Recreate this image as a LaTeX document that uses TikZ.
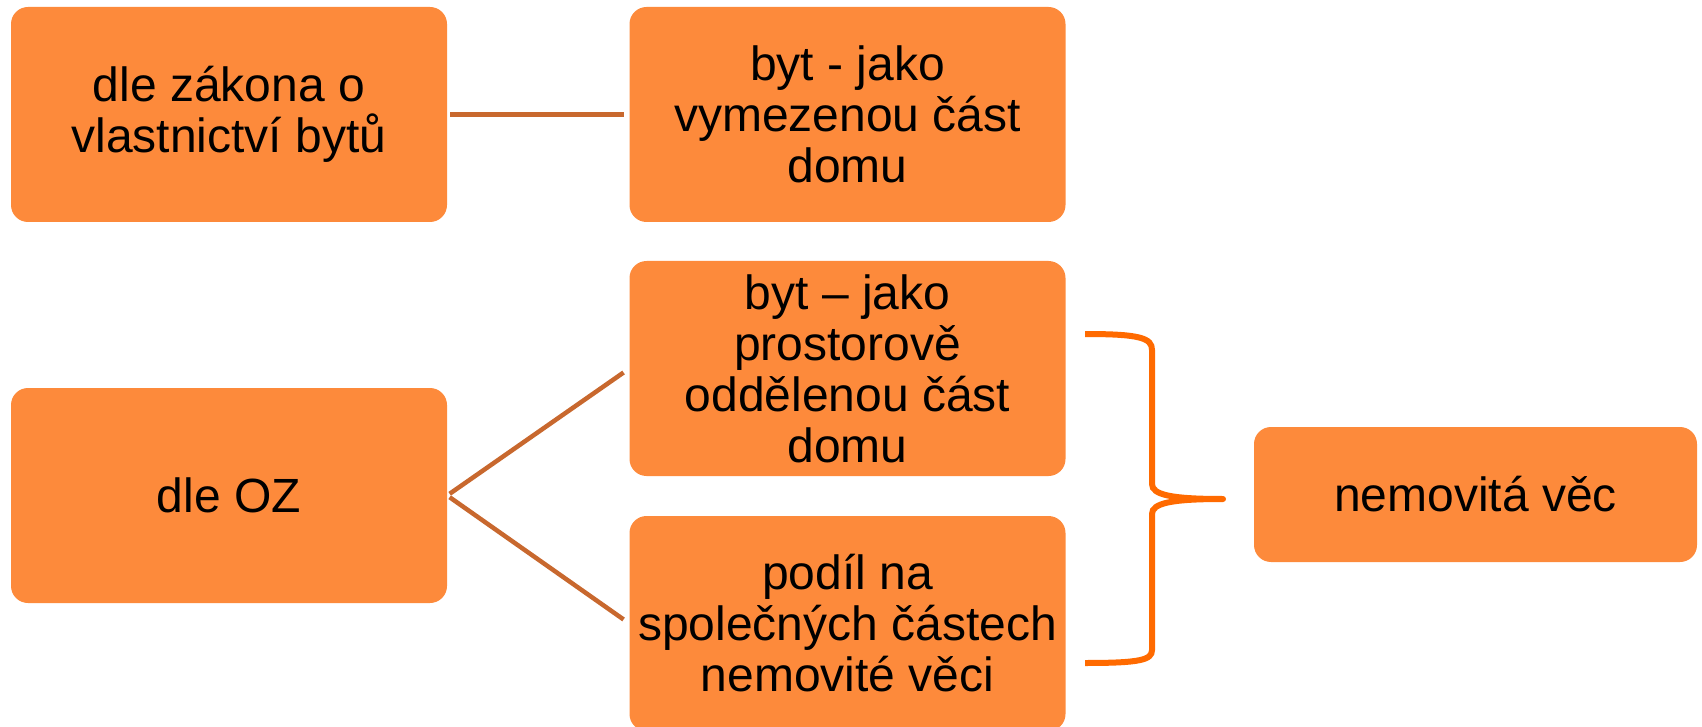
\documentclass[tikz,border=0pt]{standalone}
\usepackage{fontspec}
\setmainfont{Liberation Sans}
\definecolor{boxfill}{HTML}{FD8A3B}
\definecolor{linkline}{HTML}{C8682E}
\definecolor{bracecol}{HTML}{FF6A00}
\begin{document}
\begin{tikzpicture}[x=1pt,y=-1pt,
  card/.style={draw=none, fill=boxfill, rounded corners=17pt, align=center,
    minimum width=436pt, minimum height=215pt, inner sep=0pt,
    font=\fontsize{48}{51}\selectfont},
  link/.style={draw=linkline, line width=4.5pt},
  bracket/.style={draw=bracecol, line width=6pt}]
\useasboundingbox (0,0) rectangle (1702,727);
\clip (0,0) rectangle (1702,727);

% left column
\node[card] (zakon) at (229,114.5) {dle zákona o\\vlastnictví bytů};
\node[card] (oz)    at (229,495.5) {dle OZ};

% middle column
\node[card] (bytA) at (847.5,114.5) {byt - jako\\vymezenou část\\domu};
\node[card] (bytB) at (847.5,368.5) {byt – jako\\prostorově\\oddělenou část\\domu};
\node[card] (podil) at (847.5,623.5) {podíl na\\společných částech\\nemovité věci};

% result
\node[card, minimum width=443pt, minimum height=135pt] (vec) at (1475.5,494.5) {nemovitá věc};

% connectors
\draw[link, shorten <=3pt, shorten >=5pt] (zakon.east) -- (bytA.west);
\draw[link, shorten <=3pt, shorten >=7pt] (oz.east) -- (bytB.west);
\draw[link, shorten <=3pt, shorten >=7pt] (oz.east) -- (podil.west);

% curly bracket gathering the two middle boxes
\coordinate (tip) at (1223,499);
\draw[bracket, line cap=butt]
  (1085,334) .. controls (1140,334) and (1152,338) .. (1152,350)
  -- (1152,484) .. controls (1152,495) and (1172,499) .. (tip)
  .. controls (1172,499) and (1152,503) .. (1152,514)
  -- (1152,650) .. controls (1152,660) and (1140,663) .. (1085,663);
\fill[bracecol] (tip) circle (3pt);
\end{tikzpicture}
\end{document}
